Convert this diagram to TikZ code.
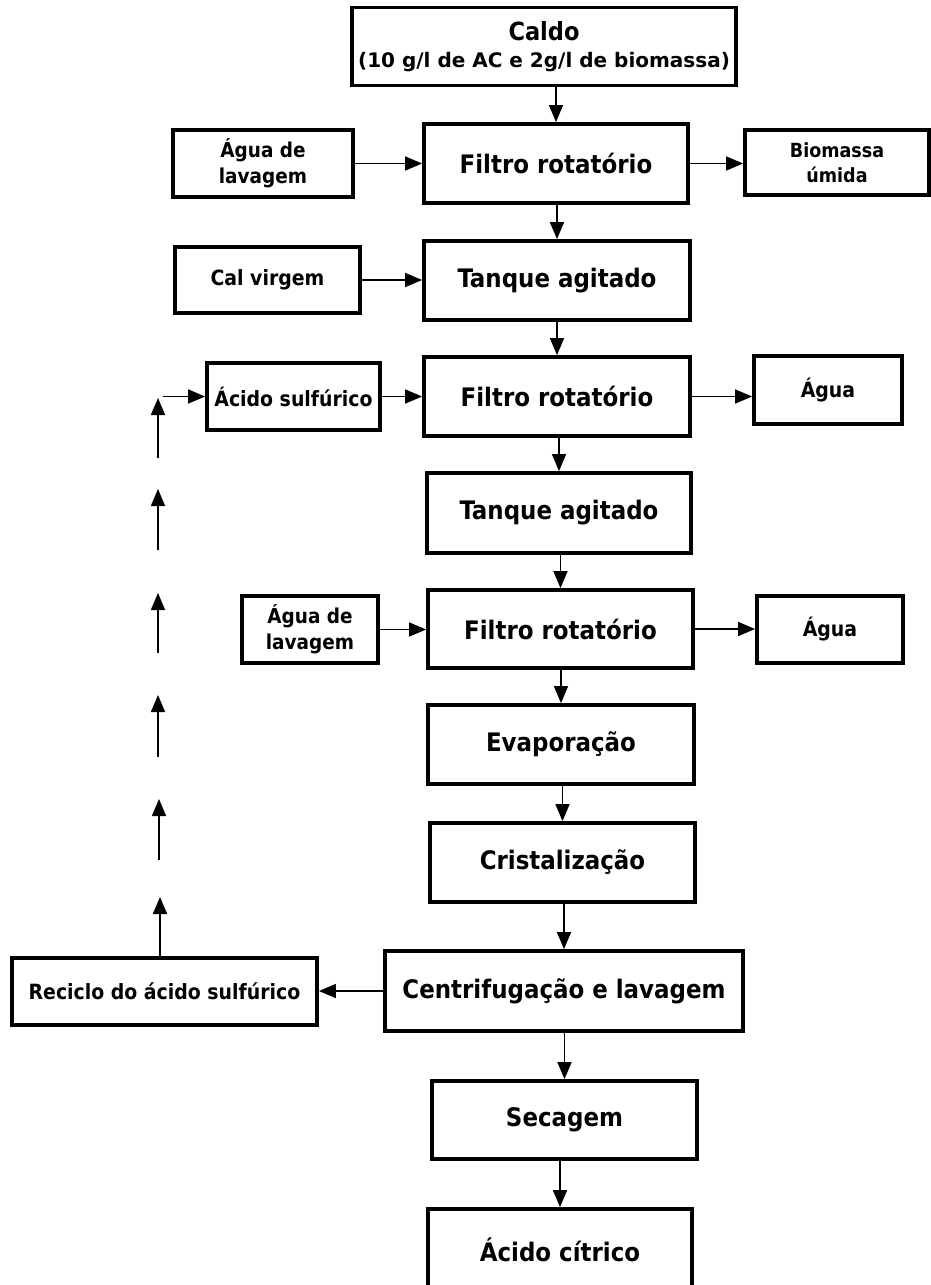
\documentclass[tikz,border=0pt]{standalone}
\usepackage{fontspec}
\setmainfont{DejaVu Sans}
\newfontfamily\condfont{DejaVu Sans Condensed}
\usetikzlibrary{arrows.meta}
\begin{document}
\begin{tikzpicture}[x=1pt,y=-1pt,
  box/.style={draw, line width=3.8pt, inner sep=0pt, align=center,
    font=\condfont\bfseries\fontsize{25.5}{30}\selectfont},
  side/.style={box, font=\condfont\bfseries\fontsize{21}{26}\selectfont},
  side2/.style={box, font=\condfont\bfseries\fontsize{20.5}{26}\selectfont},
  arr/.style={line width=1.6pt, -{Triangle[length=17pt,width=14pt]}},
]
\useasboundingbox (0,0) rectangle (931,1285);

% main column
\node[box, minimum width=384, minimum height=78, font=\bfseries\fontsize{20}{30}\selectfont] (caldo) at (544,46.5)
  {{\condfont\fontsize{25}{30}\selectfont Caldo}\\[-3pt](10 g/l de AC e 2g/l de biomassa)};
\node[box, minimum width=264, minimum height=79] (f1) at (556,163.5) {Filtro rotatório};
\node[box, minimum width=266, minimum height=79] (t1) at (557,280.5) {Tanque agitado};
\node[box, minimum width=266, minimum height=79] (f2) at (557,396.5) {Filtro rotatório};
\node[box, minimum width=264, minimum height=80] (t2) at (559,513) {Tanque agitado};
\node[box, minimum width=265, minimum height=78] (f3) at (560.5,629) {Filtro rotatório};
\node[box, minimum width=266, minimum height=79] (evap) at (561,744.5) {Evaporação};
\node[box, minimum width=265, minimum height=79] (crist) at (562.5,862.5) {Cristalização};
\node[box, minimum width=358, minimum height=80] (centr) at (564,991) {Centrifugação e lavagem};
\node[box, minimum width=265, minimum height=78] (sec) at (564.5,1120) {Secagem};
\node[box, minimum width=264, minimum height=82] (citr) at (560,1250) {Ácido cítrico};

% side boxes
\node[side2, minimum width=180, minimum height=67] (agua1) at (263,163.5) {Água de\\lavagem};
\node[side2, minimum width=184, minimum height=65, font=\condfont\bfseries\fontsize{19.5}{25}\selectfont] (biom) at (837,162.5) {Biomassa\\úmida};
\node[side, minimum width=185, minimum height=66] (cal) at (267.5,280) {Cal virgem};
\node[side, minimum width=173, minimum height=67] (acido) at (293.5,396.5) {Ácido sulfúrico};
\node[side, minimum width=148, minimum height=68] (agua2) at (828,390) {Água};
\node[side2, minimum width=136, minimum height=67] (lav3) at (310,629.5) {Água de\\lavagem};
\node[side, minimum width=146, minimum height=67] (agua3) at (830,629.5) {Água};
\node[side, minimum width=305, minimum height=67] (recic) at (164.5,991.5) {Reciclo do ácido sulfúrico};

% main flow
\draw[arr] (caldo.south -| f1.north) -- (f1.north);
\draw[arr] (f1.south -| t1.north) -- (t1.north);
\draw[arr] (t1.south -| f2.north) -- (f2.north);
\draw[arr] (f2.south -| t2.north) -- (t2.north);
\draw[arr] (t2.south -| f3.north) -- (f3.north);
\draw[arr] (f3.south -| evap.north) -- (evap.north);
\draw[arr] (evap.south -| crist.north) -- (crist.north);
\draw[arr] (crist.south -| centr.north) -- (centr.north);
\draw[arr] (centr.south -| sec.north) -- (sec.north);
\draw[arr] (sec.south -| citr.north) -- (citr.north);

% side flows
\draw[arr] (agua1.east) -- (agua1.east -| f1.west);
\draw[arr] (f1.east) -- (f1.east -| biom.west);
\draw[arr] (cal.east) -- (cal.east -| t1.west);
\draw[arr] (acido.east) -- (acido.east -| f2.west);
\draw[arr] (f2.east) -- (f2.east -| agua2.west);
\draw[arr] (lav3.east) -- (lav3.east -| f3.west);
\draw[arr] (f3.east) -- (f3.east -| agua3.west);
\draw[arr] (centr.west) -- (centr.west -| recic.east);

% recycle dashed line
\coordinate (s0) at (163,396.5);
\draw[arr] (s0) -- (acido.west);
\coordinate (a1) at (158,458);  \coordinate (b1) at (158,398);
\coordinate (a2) at (158,550);  \coordinate (b2) at (158,489);
\coordinate (a3) at (158,653);  \coordinate (b3) at (158,593);
\coordinate (a4) at (158,757);  \coordinate (b4) at (158,695);
\coordinate (a5) at (159,860);  \coordinate (b5) at (159,799);
\coordinate (b6) at (160,897);
\draw[arr] (a1) -- (b1);
\draw[arr] (a2) -- (b2);
\draw[arr] (a3) -- (b3);
\draw[arr] (a4) -- (b4);
\draw[arr] (a5) -- (b5);
\draw[arr] (recic.north -| b6) -- (b6);
\end{tikzpicture}
\end{document}
